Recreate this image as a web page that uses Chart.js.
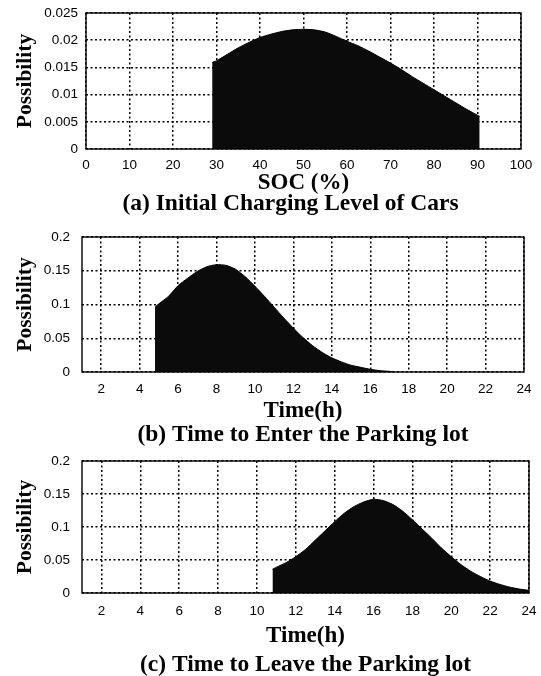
<!DOCTYPE html>
<html>
<head>
<meta charset="utf-8">
<script src="https://cdn.jsdelivr.net/npm/chart.js@4/dist/chart.umd.min.js"></script>
<style>
    body { margin: 0; background: #fff; }
    .panel { position: absolute; left: 0; width: 541px; }
</style>
</head>
<body>
<div class="panel" style="top:0;height:224px"><canvas id="soc-chart"></canvas></div>
<div class="panel" style="top:224px;height:224px"><canvas id="enter-chart"></canvas></div>
<div class="panel" style="top:448px;height:228px"><canvas id="leave-chart"></canvas></div>
<script>
// (a) initial SOC of the cars
const socX = [29, 30, 32.5, 35, 37.5, 40, 42.5, 45, 47.5, 50, 52.5, 55, 57.5, 60, 62.5, 65,
    67.5, 70, 72.5, 75, 77.5, 80, 82.5, 85, 87.5, 90, 90.5];
const socP = [0.0159, 0.0162, 0.0174, 0.0186, 0.0196, 0.0205, 0.0211, 0.0216, 0.0219, 0.0220,
    0.0219, 0.0215, 0.0207, 0.0198, 0.0190, 0.0180, 0.0169, 0.0158, 0.0146, 0.0133, 0.0121,
    0.0109, 0.0097, 0.0085, 0.0073, 0.0062, 0.0060];

// (b) time to enter the parking lot
const enterX = [4.8, 5, 5.5, 6, 6.5, 7, 7.5, 8, 8.5, 9, 9.5, 10, 10.5, 11, 11.5, 12, 12.5,
    13, 13.5, 14, 14.5, 15, 15.5, 16, 16.5, 17, 17.2];
const enterP = [0.096, 0.101, 0.112, 0.128, 0.139, 0.149, 0.156, 0.159, 0.158, 0.152, 0.141,
    0.127, 0.112, 0.096, 0.080, 0.065, 0.051, 0.039, 0.029, 0.021, 0.015, 0.010, 0.007,
    0.004, 0.002, 0.001, 0];

// (c) time to leave the parking lot
const leaveX = [10.8, 11, 11.5, 12, 12.5, 13, 13.5, 14, 14.5, 15, 15.5, 16, 16.5, 17, 17.5,
    18, 18.5, 19, 19.5, 20, 20.5, 21, 21.5, 22, 22.5, 23, 23.5, 24];
const leaveP = [0.036, 0.039, 0.046, 0.055, 0.066, 0.080, 0.094, 0.108, 0.121, 0.131, 0.138,
    0.142, 0.140, 0.134, 0.124, 0.111, 0.097, 0.083, 0.068, 0.055, 0.043, 0.033, 0.025,
    0.018, 0.013, 0.009, 0.006, 0.004];

const socTicks = [0, 10, 20, 30, 40, 50, 60, 70, 80, 90, 100];
const hourTicks = [2, 4, 6, 8, 10, 12, 14, 16, 18, 20, 22, 24];
const socPTicks = [0, 0.005, 0.01, 0.015, 0.02, 0.025];
const hourPTicks = [0, 0.05, 0.1, 0.15, 0.2];

const SERIF = "'Liberation Serif', 'Times New Roman', serif";
const SANS = "'Liberation Sans', Arial, sans-serif";

// MATLAB style box round the plot area
const frame = {
    id: "frame",
    afterDatasetsDraw(chart) {
        const a = chart.chartArea;
        const ctx = chart.ctx;
        ctx.save();
        ctx.strokeStyle = "#000";
        ctx.lineWidth = 1.4;
        ctx.strokeRect(a.left, a.top, a.right - a.left, a.bottom - a.top);
        ctx.restore();
    }
};

function drawPanel(id, p) {
    const grid = { color: "#000", lineWidth: 1.5, drawTicks: false };
    const border = { display: false, dash: [2, 2.5] };
    const tickFont = { family: SANS, size: 13.5 };

    // the caption under (a) sits a little left of the plot centre
    const captionShift = {
        id: "captionShift",
        afterLayout(chart) {
            const t = chart.titleBlock;
            if (t && p.capDx) {
                t.left += p.capDx;
                t.right += p.capDx;
            }
        }
    };

    new Chart(document.getElementById(id), {
        type: "line",
        data: {
            datasets: [{
                data: p.xs.map((x, i) => ({ x: x, y: p.ys[i] })),
                fill: "origin",
                backgroundColor: "#0b0b0b",
                borderColor: "#000",
                borderWidth: 1,
                pointRadius: 0,
                tension: 0.2,
            }],
        },
        options: {
            responsive: true,
            maintainAspectRatio: false,
            animation: false,
            layout: { padding: { top: p.top, right: p.right, left: 0, bottom: 0 } },
            plugins: {
                legend: { display: false },
                tooltip: { enabled: false },
                title: {
                    display: true,
                    position: "bottom",
                    fullSize: false,
                    text: p.caption,
                    color: "#000",
                    font: { family: SERIF, size: 23.5, weight: "bold", lineHeight: 0.9 },
                    padding: { top: 0, bottom: p.capPad },
                },
            },
            scales: {
                x: {
                    type: "linear",
                    min: p.xMin,
                    max: p.xMax,
                    afterBuildTicks: s => { s.ticks = p.xTicks.map(v => ({ value: v })); },
                    afterFit: s => { s.height = p.xH; s.paddingLeft = 0; s.paddingRight = 0; },
                    grid: grid,
                    border: border,
                    ticks: { padding: p.xTickPad, color: "#000", font: tickFont, maxRotation: 0, autoSkip: false },
                    title: {
                        display: true,
                        text: p.xTitle,
                        color: "#000",
                        font: { family: SERIF, size: 23, weight: "bold", lineHeight: 0.9 },
                        padding: { top: 0, bottom: p.xTitlePad },
                    },
                },
                y: {
                    min: 0,
                    max: p.yTicks[p.yTicks.length - 1],
                    afterBuildTicks: s => { s.ticks = p.yTicks.map(v => ({ value: v })); },
                    afterFit: s => { s.width = p.left; s.paddingTop = 0; s.paddingBottom = 0; },
                    grid: grid,
                    border: border,
                    ticks: { padding: p.yTickPad, color: "#000", font: tickFont, callback: v => String(v) },
                    title: {
                        display: true,
                        text: "Possibility",
                        color: "#000",
                        font: { family: SERIF, size: 21.5, weight: "bold", lineHeight: 1 },
                        padding: { top: 14.25, bottom: 0 },
                    },
                },
            },
        },
        plugins: [frame, captionShift],
    });
}

drawPanel("soc-chart", {
    xs: socX, ys: socP, xMin: 0, xMax: 100, xTicks: socTicks, yTicks: socPTicks,
    xTitle: "SOC (%)", caption: "(a) Initial Charging Level of Cars",
    top: 13, right: 20, left: 86, capDx: -13,
    xH: 44.4, xTickPad: 8.4, xTitlePad: 0, capPad: 9.45, yTickPad: 8,
});

drawPanel("enter-chart", {
    xs: enterX, ys: enterP, xMin: 1, xMax: 24, xTicks: hourTicks, yTicks: hourPTicks,
    xTitle: "Time(h)", caption: "(b) Time to Enter the Parking lot",
    top: 13, right: 17, left: 82,
    xH: 52.4, xTickPad: 8.9, xTitlePad: 2.5, capPad: 2.45, yTickPad: 12,
});

drawPanel("leave-chart", {
    xs: leaveX, ys: leaveP, xMin: 1, xMax: 24, xTicks: hourTicks, yTicks: hourPTicks,
    xTitle: "Time(h)", caption: "(c) Time to Leave the Parking lot",
    top: 13, right: 12, left: 82,
    xH: 61.4, xTickPad: 9.9, xTitlePad: 8, capPad: 0.45, yTickPad: 12,
});
</script>
</body>
</html>
